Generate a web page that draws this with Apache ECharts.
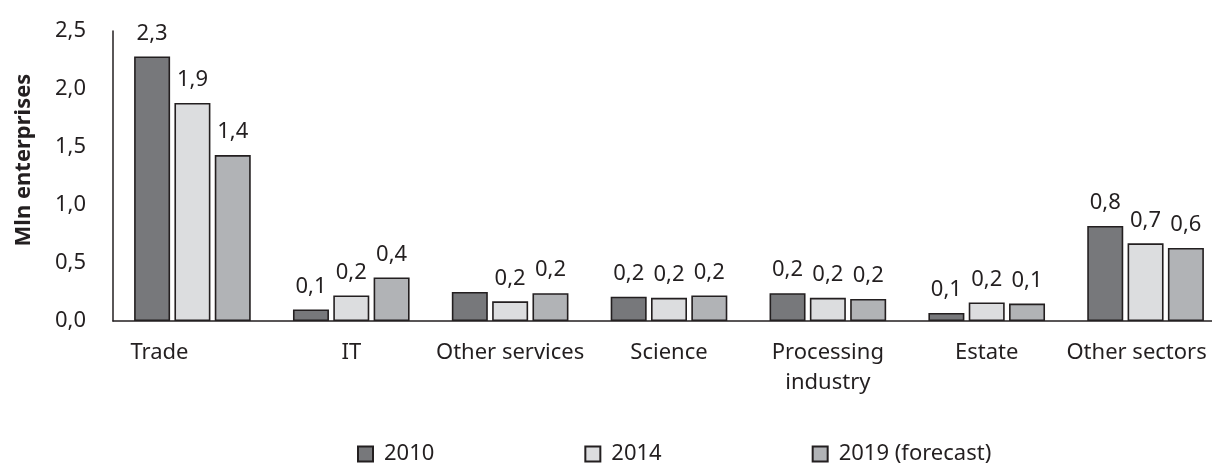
<!DOCTYPE html>
<html>
<head>
<meta charset="utf-8">
<script src="https://cdn.jsdelivr.net/npm/echarts@6/dist/echarts.min.js"></script>
<style>html,body{margin:0;padding:0;background:#fff}#c{width:1212px;height:467px}</style>
</head>
<body>
<div id="c"></div>
<script>
const categories = ['Trade', 'IT', 'Other services', 'Science', 'Processing\nindustry', 'Estate', 'Other sectors'];
const seriesNames = ['2010', '2014', '2019 (forecast)'];
const values2010 = [2.28, 0.10, 0.25, 0.21, 0.24, 0.07, 0.82];
const values2014 = [1.88, 0.22, 0.17, 0.20, 0.20, 0.16, 0.67];
const values2019 = [1.43, 0.375, 0.24, 0.22, 0.19, 0.15, 0.63];
const hiddenLabels2010 = [2]; // index of bars without a value label
const yTicks = [0, 0.5, 1.0, 1.5, 2.0, 2.5];

const ink = '#231f20';
const font = 'Noto Sans';
const fs = 22;
const colors = ['#77787b', '#dcdddf', '#b1b3b6'];
const fmt = v => v.toFixed(1).replace('.', ',');

function makeSeries(name, vals, color, hidden) {
  return {
    name: name,
    type: 'bar',
    barWidth: 36,
    barGap: '12%',
    data: vals.map((v, i) => hidden.indexOf(i) >= 0 ? { value: v, label: { show: false } } : v),
    itemStyle: { color: color, borderColor: ink, borderWidth: 1.6 },
    label: {
      show: true, position: 'top', distance: 12,
      fontFamily: font, fontSize: fs, color: ink,
      formatter: p => fmt(p.value)
    }
  };
}

const labelPadding = { 0: [0, 66, 0, 0], 6: [0, 18, 0, 0] };

const chart = echarts.init(document.getElementById('c'));
chart.setOption({
  animation: false,
  textStyle: { fontFamily: font },
  grid: { left: 113, width: 1112, top: 31, height: 290, containLabel: false, outerBoundsMode: 'none' },
  legend: {
    left: 357, top: 443, padding: 0,
    itemWidth: 15, itemHeight: 15, itemGap: 150,
    icon: 'rect',
    textStyle: { fontFamily: font, fontSize: fs, color: ink, padding: [0, 0, 0, 6] },
    data: seriesNames
  },
  xAxis: {
    type: 'category',
    data: categories.map((c, i) => labelPadding[i] ? { value: c, textStyle: { padding: labelPadding[i] } } : c),
    axisLine: { lineStyle: { color: ink, width: 1.5 } },
    axisTick: { show: false },
    axisLabel: { fontFamily: font, fontSize: fs, color: ink, margin: 17, lineHeight: 30, interval: 0 }
  },
  yAxis: {
    type: 'value',
    min: yTicks[0], max: yTicks[yTicks.length - 1], interval: 0.5,
    name: 'Mln enterprises',
    nameLocation: 'middle', nameGap: 78, nameRotate: 90,
    nameTextStyle: { fontFamily: font, fontSize: fs, fontWeight: 'bold', color: ink, padding: [0, 0, 0, 32] },
    axisLine: { show: true, lineStyle: { color: ink, width: 1.5 } },
    axisTick: { show: false },
    splitLine: { show: false },
    axisLabel: { fontFamily: font, fontSize: fs, color: ink, margin: 27, formatter: v => fmt(v) }
  },
  series: [
    makeSeries(seriesNames[0], values2010, colors[0], hiddenLabels2010),
    makeSeries(seriesNames[1], values2014, colors[1], []),
    makeSeries(seriesNames[2], values2019, colors[2], [])
  ]
});
</script>
</body>
</html>
